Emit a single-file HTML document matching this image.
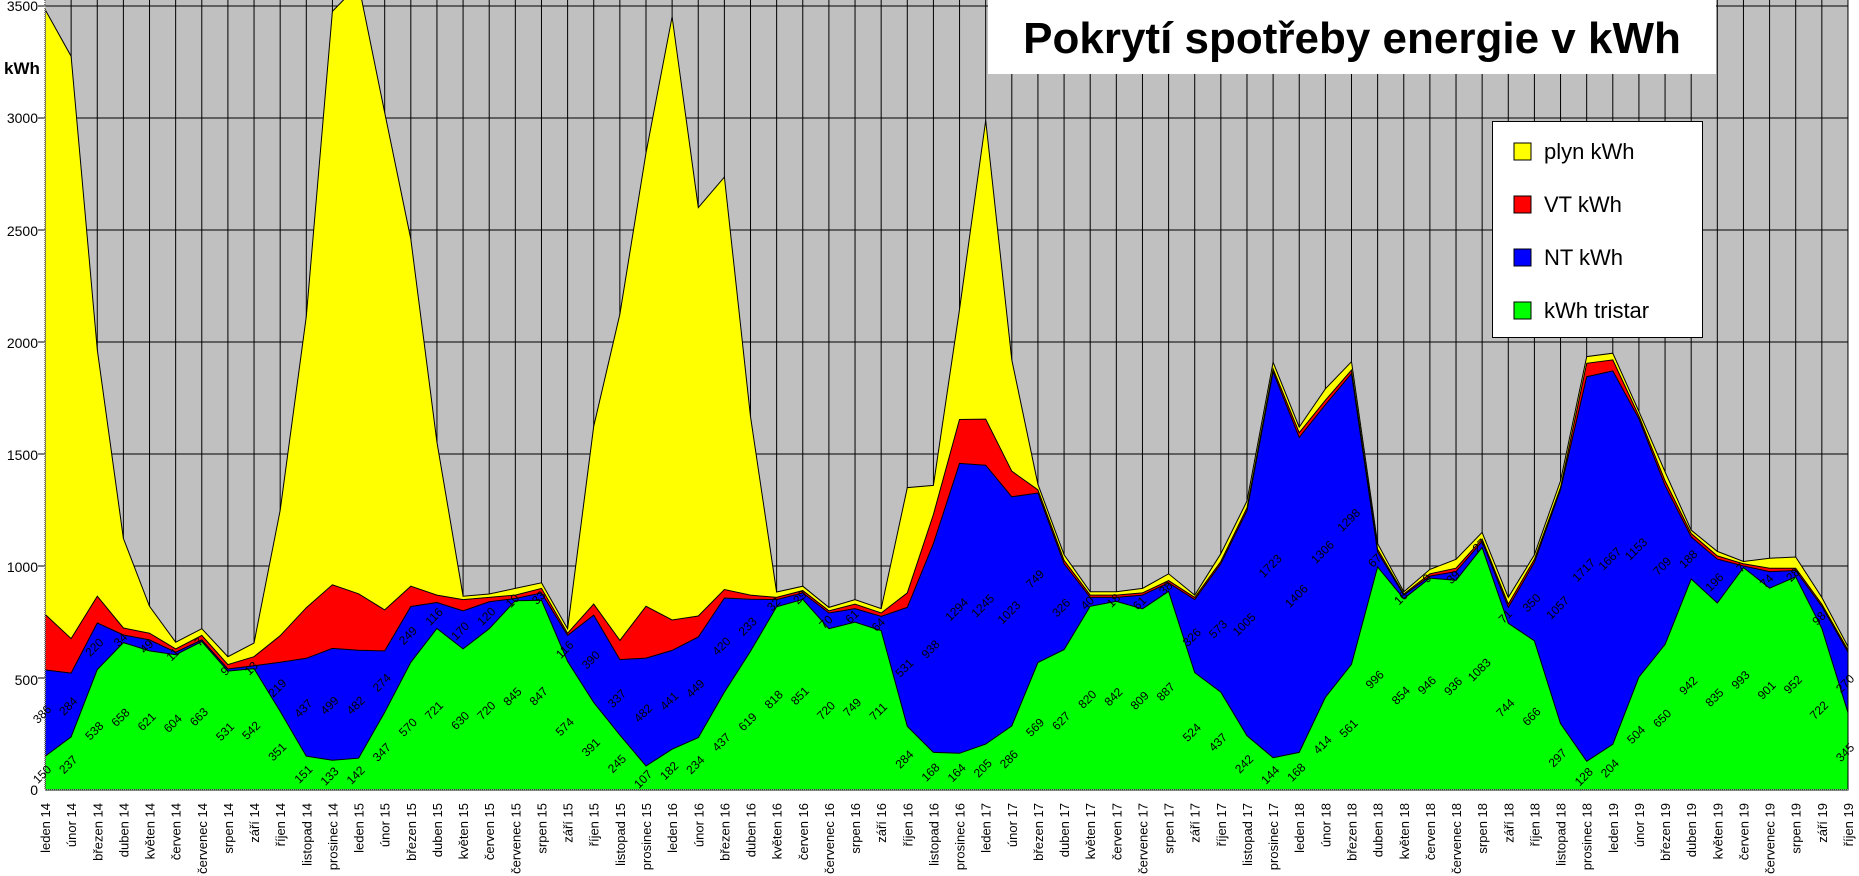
<!DOCTYPE html>
<html><head><meta charset="utf-8">
<style>
html,body{margin:0;padding:0;background:#fff;}
svg{display:block;font-family:"Liberation Sans",Arial,sans-serif;}
</style></head>
<body>
<svg id="s" width="1859" height="876" viewBox="0 0 1859 876" xmlns="http://www.w3.org/2000/svg">
<rect x="0" y="0" width="1859" height="876" fill="#fff"/>
<rect x="45" y="0" width="1803" height="790" fill="#c0c0c0"/>
<g id="grid" stroke="#000" stroke-width="1"></g>
<defs><clipPath id="cp"><rect x="45" y="0" width="1804" height="791"/></clipPath></defs>
<g id="areas" clip-path="url(#cp)"></g>
<line x1="45" y1="0" x2="45" y2="790" stroke="#888" stroke-width="2" stroke-dasharray="1,1"/>
<line x1="45" y1="790" x2="1848" y2="790" stroke="#888" stroke-width="2" stroke-dasharray="1,1"/>
<g font-size="14" text-anchor="end" fill="#000">
<text x="38" y="11">3500</text>
<text x="38" y="123">3000</text>
<text x="38" y="236">2500</text>
<text x="38" y="348">2000</text>
<text x="38" y="460">1500</text>
<text x="38" y="572">1000</text>
<text x="38" y="685">500</text>
<text x="38" y="795">0</text>
</g>
<text x="4" y="74" font-size="17" font-weight="bold">kWh</text>
<g id="gl" font-size="12" fill="#000" text-anchor="middle">
<text>150</text><text>237</text><text>538</text><text>658</text><text>621</text><text>604</text><text>663</text><text>531</text><text>542</text><text>351</text><text>151</text><text>133</text><text>142</text><text>347</text><text>570</text><text>721</text><text>630</text><text>720</text><text>845</text><text>847</text><text>574</text><text>391</text><text>245</text><text>107</text><text>182</text><text>234</text><text>437</text><text>619</text><text>818</text><text>851</text><text>720</text><text>749</text><text>711</text><text>284</text><text>168</text><text>164</text><text>205</text><text>286</text><text>569</text><text>627</text><text>820</text><text>842</text><text>809</text><text>887</text><text>524</text><text>437</text><text>242</text><text>144</text><text>168</text><text>414</text><text>561</text><text>996</text><text>854</text><text>946</text><text>936</text><text>1083</text><text>744</text><text>666</text><text>297</text><text>128</text><text>204</text><text>504</text><text>650</text><text>942</text><text>835</text><text>993</text><text>901</text><text>952</text><text>722</text><text>345</text>
</g>
<g id="bl" font-size="12" fill="#000" text-anchor="middle">
<text>386</text><text>284</text><text>220</text><text>34</text><text>49</text><text>11</text><text>7</text><text>9</text><text>13</text><text>219</text><text>437</text><text>499</text><text>482</text><text>274</text><text>249</text><text>116</text><text>170</text><text>120</text><text>10</text><text>33</text><text>116</text><text>390</text><text>337</text><text>482</text><text>441</text><text>449</text><text>420</text><text>233</text><text>32</text><text>29</text><text>70</text><text>61</text><text>64</text><text>531</text><text>938</text><text>1294</text><text>1245</text><text>1023</text><text>749</text><text>326</text><text>40</text><text>18</text><text>61</text><text>38</text><text>326</text><text>573</text><text>1005</text><text>1723</text><text>1406</text><text>1306</text><text>1298</text><text>67</text><text>16</text><text>9</text><text>39</text><text>27</text><text>71</text><text>350</text><text>1057</text><text>1717</text><text>1667</text><text>1153</text><text>709</text><text>188</text><text>196</text><text>7</text><text>74</text><text>28</text><text>98</text><text>270</text>
</g>
<g id="xl" font-size="13" fill="#000" text-anchor="end">
<text>leden 14</text><text>únor 14</text><text>březen 14</text><text>duben 14</text><text>květen 14</text><text>červen 14</text><text>červenec 14</text><text>srpen 14</text><text>září 14</text><text>říjen 14</text><text>listopad 14</text><text>prosinec 14</text>
<text>leden 15</text><text>únor 15</text><text>březen 15</text><text>duben 15</text><text>květen 15</text><text>červen 15</text><text>červenec 15</text><text>srpen 15</text><text>září 15</text><text>říjen 15</text><text>listopad 15</text><text>prosinec 15</text>
<text>leden 16</text><text>únor 16</text><text>březen 16</text><text>duben 16</text><text>květen 16</text><text>červen 16</text><text>červenec 16</text><text>srpen 16</text><text>září 16</text><text>říjen 16</text><text>listopad 16</text><text>prosinec 16</text>
<text>leden 17</text><text>únor 17</text><text>březen 17</text><text>duben 17</text><text>květen 17</text><text>červen 17</text><text>červenec 17</text><text>srpen 17</text><text>září 17</text><text>říjen 17</text><text>listopad 17</text><text>prosinec 17</text>
<text>leden 18</text><text>únor 18</text><text>březen 18</text><text>duben 18</text><text>květen 18</text><text>červen 18</text><text>červenec 18</text><text>srpen 18</text><text>září 18</text><text>říjen 18</text><text>listopad 18</text><text>prosinec 18</text>
<text>leden 19</text><text>únor 19</text><text>březen 19</text><text>duben 19</text><text>květen 19</text><text>červen 19</text><text>červenec 19</text><text>srpen 19</text><text>září 19</text><text>říjen 19</text>
</g>
<rect x="988" y="0" width="728" height="74" fill="#fff"/>
<text x="1352" y="53" font-size="44" font-weight="bold" text-anchor="middle">Pokrytí spotřeby energie v kWh</text>
<rect x="1492.5" y="121.5" width="210" height="216" fill="#fff" stroke="#000" stroke-width="1"/>
<rect x="1514" y="143" width="17" height="17" fill="#ffff00" stroke="#000"/>
<rect x="1514" y="196" width="17" height="17" fill="#ff0000" stroke="#000"/>
<rect x="1514" y="249" width="17" height="17" fill="#0000ff" stroke="#000"/>
<rect x="1514" y="302" width="17" height="17" fill="#00ff00" stroke="#000"/>
<g font-size="22"><text x="1544" y="159">plyn kWh</text><text x="1544" y="212">VT kWh</text><text x="1544" y="265">NT kWh</text><text x="1544" y="318">kWh tristar</text></g>
</svg>
<script>
(function(){
var NS="http://www.w3.org/2000/svg";
function X(i){return 45+26.13*i;}
function Y(v){return 790-v*0.224;}
var green=[150,237,538,658,621,604,663,531,542,351,151,133,142,347,570,721,630,720,845,847,574,391,245,107,182,234,437,619,818,851,720,749,711,284,168,164,205,286,569,627,820,842,809,887,524,437,242,144,168,414,561,996,854,946,936,1083,744,666,297,128,204,504,650,942,835,993,901,952,722,345];
var blue=[536,522,746,692,670,615,670,540,555,570,588,632,624,621,819,837,800,840,855,880,690,781,582,589,623,683,857,852,850,880,790,810,775,815,1100,1458,1450,1309,1326,1010,860,860,870,925,850,1010,1247,1867,1574,1720,1859,1063,870,955,975,1110,815,1016,1340,1845,1871,1657,1359,1130,1031,1000,975,980,820,615];
var red=[785,676,865,723,700,630,690,560,595,689,814,916,876,804,910,870,850,860,870,900,700,830,668,820,759,777,895,870,860,890,800,830,790,880,1230,1654,1656,1423,1340,1025,870,870,880,935,860,1020,1260,1880,1595,1740,1875,1075,875,965,990,1120,830,1030,1350,1905,1920,1670,1380,1145,1045,1010,990,990,830,625];
var yel=[3485,3276,1965,1123,820,660,720,595,656,1249,2114,3476,3596,3024,2460,1554,865,875,900,925,720,1623,2125,2844,3452,2600,2736,1667,884,910,815,850,810,1350,1360,2145,2989,1920,1365,1050,885,885,900,965,870,1055,1290,1910,1620,1791,1912,1100,885,985,1030,1150,860,1050,1380,1935,1950,1690,1420,1160,1065,1020,1035,1040,860,640];
var g=document.getElementById('grid');
for(var k=1;k<=7;k++){var l=document.createElementNS(NS,'line');var y=Y(k*500);l.setAttribute('x1',38);l.setAttribute('x2',1848);l.setAttribute('y1',y);l.setAttribute('y2',y);g.appendChild(l);}
for(var i=1;i<70;i++){var l=document.createElementNS(NS,'line');l.setAttribute('x1',X(i));l.setAttribute('x2',X(i));l.setAttribute('y1',0);l.setAttribute('y2',790);g.appendChild(l);}
var a=document.getElementById('areas');
function area(arr,col){var p=[];for(var i=0;i<70;i++)p.push(X(i).toFixed(1)+','+Y(arr[i]).toFixed(1));p.push(X(69)+','+790);p.push(X(0)+','+790);var e=document.createElementNS(NS,'polygon');e.setAttribute('points',p.join(' '));e.setAttribute('fill',col);e.setAttribute('stroke','#000');e.setAttribute('stroke-width','1');a.appendChild(e);}
area(yel,'#ffff00');area(red,'#ff0000');area(blue,'#0000ff');area(green,'#00ff00');
var gl=document.getElementById('gl').children;
for(var i=0;i<gl.length;i++){gl[i].setAttribute('transform','translate('+X(i)+','+(Y(green[i]/2)+4)+') rotate(-45)');}
var bl=document.getElementById('bl').children;
for(var i=0;i<bl.length;i++){var m=(green[i]+blue[i])/2;bl[i].setAttribute('transform','translate('+X(i)+','+(Y(m)+4)+') rotate(-45)');}
var xl=document.getElementById('xl').children;
for(var i=0;i<xl.length;i++){xl[i].setAttribute('transform','translate('+(X(i)+5)+',803) rotate(-90)');}
})();
</script>
</body></html>
